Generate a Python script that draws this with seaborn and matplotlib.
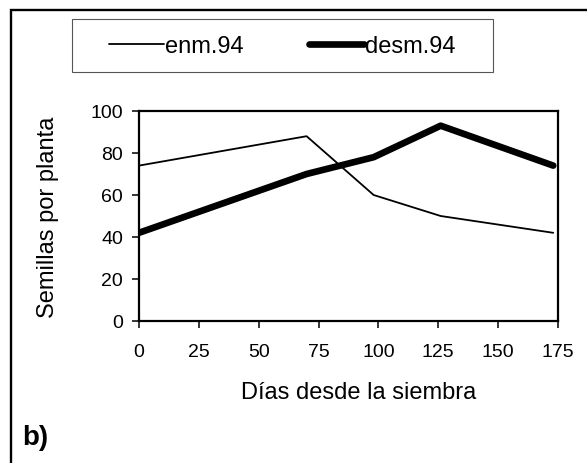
import matplotlib
matplotlib.use("Agg")
import matplotlib.pyplot as plt
import pandas as pd
import seaborn as sns
from matplotlib.patches import Rectangle

# values
dias = [0, 70, 98, 126, 173]
enm_94 = [74, 88, 60, 50, 42]
desm_94 = [42, 70, 78, 93, 74]

x_ticks = [0, 25, 50, 75, 100, 125, 150, 175]
y_ticks = [0, 20, 40, 60, 80, 100]

sns.set_theme(style="white")
plt.rcParams["font.family"] = ["Liberation Sans", "DejaVu Sans"]
plt.rcParams.update({"text.color": "black", "axes.labelcolor": "black",
                     "xtick.color": "black", "ytick.color": "black"})

df = pd.DataFrame({"dias": dias, "enm.94": enm_94, "desm.94": desm_94})

fig = plt.figure(figsize=(5.87, 4.64), dpi=100)
ax = fig.add_axes([139 / 587, 1 - 322 / 464, 419 / 587, 210 / 464])

sns.lineplot(data=df, x="dias", y="enm.94", ax=ax, color="black", linewidth=1.3,
             label="enm.94")
sns.lineplot(data=df, x="dias", y="desm.94", ax=ax, color="black", linewidth=4.8,
             label="desm.94", solid_capstyle="round", solid_joinstyle="round")

ax.set_xlim(0, 175)
ax.set_ylim(0, 100)
ax.set_xticks(x_ticks)
ax.set_yticks(y_ticks)
ax.tick_params(axis="both", direction="out", length=5, width=1.1,
               labelsize=14, bottom=True, left=True)
ax.tick_params(axis="x", pad=11)
ax.tick_params(axis="y", pad=6.5)
for s in ax.spines.values():
    s.set_color("black")
    s.set_linewidth(1.6)

ax.set_xlabel("Días desde la siembra", fontsize=17)
ax.set_ylabel("Semillas por planta", fontsize=17)
ax.xaxis.set_label_coords(0.524, -0.284)
ax.yaxis.set_label_coords(-0.19, 0.5)

handles, labels = ax.get_legend_handles_labels()
ax.legend_.remove()
fig.legend(handles, labels, loc="center", bbox_to_anchor=(0.481, 0.899), ncol=2,
           frameon=False, fontsize=17, handlelength=2.3, handletextpad=0.05,
           columnspacing=2.8)

# legend frame and outer border
fig.patches.append(Rectangle((72 / 587, 1 - 73 / 464), 421 / 587, 53 / 464,
                             transform=fig.transFigure, fill=False,
                             edgecolor="#555555", linewidth=0.8))
fig.patches.append(Rectangle((11 / 587, -0.1), 1.2, 1.1 - 11 / 464,
                             transform=fig.transFigure, fill=False,
                             edgecolor="black", linewidth=1.7))

fig.text(22 / 587, 1 - 438 / 464, "b)", fontsize=20, fontweight="bold",
         va="center", ha="left")

fig.savefig("out.png", dpi=100)
